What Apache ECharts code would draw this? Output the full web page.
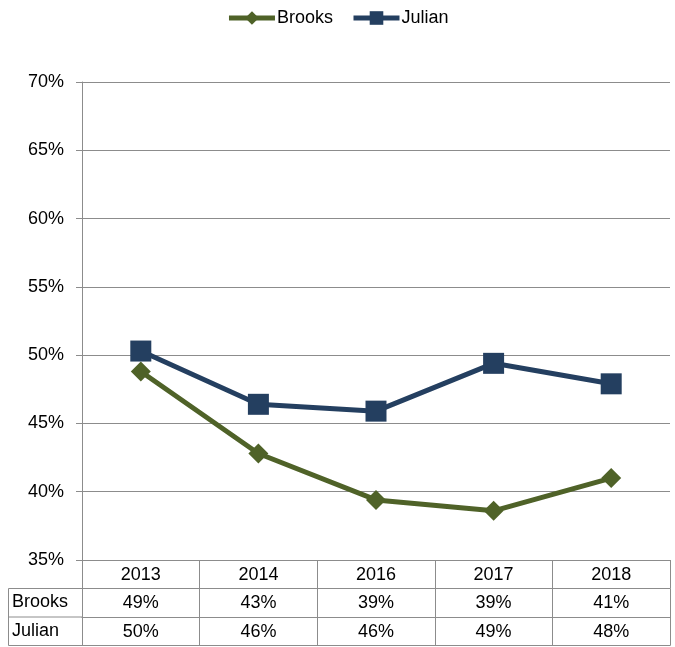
<!DOCTYPE html>
<html>
<head>
<meta charset="utf-8">
<script src="https://cdn.jsdelivr.net/npm/echarts@6/dist/echarts.min.js"></script>
<style>
  html, body { margin: 0; padding: 0; background: #fff; }
  #chart { width: 675px; height: 647px; }
</style>
</head>
<body>
<div id="chart"></div>
<script>
// data
const years = ['2013', '2014', '2016', '2017', '2018'];
const brooks = [48.8, 42.8, 39.4, 38.6, 41.0];
const julian = [50.3, 46.4, 45.9, 49.4, 47.9];
const yTicks = { min: 35, max: 70, step: 5 };

const brooksColor = '#4f6228';
const julianColor = '#243f60';
const gridColor = '#8c8c8c';
const font = 'Liberation Sans, Arial, sans-serif';
const fs = 18;

const pct = v => Math.round(v) + '%';

// table rows under the plot are extra category axes
const tableAxis = (offset, labels, showLabel, showTick) => ({
  type: 'category',
  data: labels,
  position: 'bottom',
  offset: offset,
  boundaryGap: true,
  axisLine: { show: true, lineStyle: { color: gridColor, width: 1 } },
  axisTick: { show: showTick, length: 28.5, lineStyle: { color: gridColor, width: 1 } },
  axisLabel: { show: showLabel, color: '#000', fontSize: fs, fontFamily: font, margin: 6 },
  splitLine: { show: false }
});

const chart = echarts.init(document.getElementById('chart'));
chart.setOption({
  animation: false,
  legend: {
    top: 4,
    left: 'center',
    itemWidth: 46,
    itemHeight: 17,
    itemGap: 18,
    itemStyle: { borderWidth: 0 },
    textStyle: { fontSize: fs, fontFamily: font, color: '#000', padding: [0, 0, 0, -3] },
    data: [
      { name: 'Brooks', lineStyle: { width: 5 } },
      { name: 'Julian', lineStyle: { width: 5 } }
    ]
  },
  grid: { left: 82, right: 5, top: 82, bottom: 87, containLabel: false },
  xAxis: [
    tableAxis(0, years, true, true),
    tableAxis(28.5, brooks.map(pct), true, true),
    tableAxis(57, julian.map(pct), true, true),
    tableAxis(85.5, years, false, false)
  ],
  yAxis: {
    type: 'value',
    min: yTicks.min,
    max: yTicks.max,
    interval: yTicks.step,
    axisLine: { show: true, lineStyle: { color: gridColor, width: 1 } },
    axisTick: { show: true, length: 6, lineStyle: { color: gridColor } },
    axisLabel: { formatter: '{value}%', color: '#000', fontSize: fs, fontFamily: font, margin: 18 },
    splitLine: { show: true, lineStyle: { color: gridColor, width: 1 } }
  },
  graphic: [
    { type: 'line', shape: { x1: 8.5, y1: 588.5, x2: 82, y2: 588.5 }, style: { stroke: gridColor, lineWidth: 1 } },
    { type: 'line', shape: { x1: 8.5, y1: 617, x2: 82, y2: 617 }, style: { stroke: gridColor, lineWidth: 1 } },
    { type: 'line', shape: { x1: 8.5, y1: 645.5, x2: 82, y2: 645.5 }, style: { stroke: gridColor, lineWidth: 1 } },
    { type: 'line', shape: { x1: 8.5, y1: 588.5, x2: 8.5, y2: 645.5 }, style: { stroke: gridColor, lineWidth: 1 } },
    { type: 'text', left: 12, top: 593, style: { text: 'Brooks', fontSize: fs, fontFamily: font, fill: '#000' } },
    { type: 'text', left: 12, top: 622, style: { text: 'Julian', fontSize: fs, fontFamily: font, fill: '#000' } }
  ],
  series: [
    {
      name: 'Brooks',
      type: 'line',
      data: brooks,
      symbol: 'diamond',
      symbolSize: 20,
      lineStyle: { color: brooksColor, width: 5 },
      itemStyle: { color: brooksColor },
      z: 3
    },
    {
      name: 'Julian',
      type: 'line',
      data: julian,
      symbol: 'rect',
      symbolSize: 21,
      lineStyle: { color: julianColor, width: 5 },
      itemStyle: { color: julianColor },
      z: 4
    }
  ]
});
</script>
</body>
</html>
